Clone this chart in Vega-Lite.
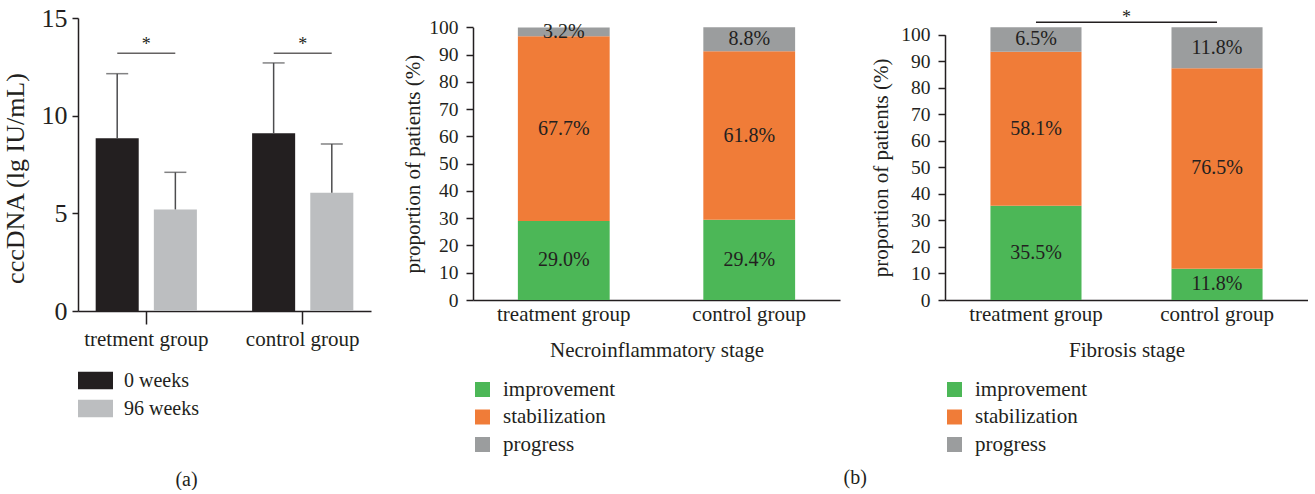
{
  "$schema": "https://vega.github.io/schema/vega-lite/v6.json",
  "padding": {"left": 2, "top": 5, "right": 0, "bottom": 0},
  "background": "white",
  "config": {
    "font": "Liberation Serif",
    "view": {"stroke": null},
    "style": {"guide-label": {"font": "Liberation Serif"}, "guide-title": {"font": "Liberation Serif"}, "group-title": {"font": "Liberation Serif"}},
    "axis": {"domainColor": "#231f20", "tickColor": "#231f20", "labelColor": "#231f20", "titleColor": "#231f20", "titleFontWeight": "normal", "grid": false, "domainWidth": 1.5, "tickWidth": 1.5, "labelFont": "Liberation Serif", "titleFont": "Liberation Serif", "labelOverlap": false},
    "legend": {"labelFont": "Liberation Serif", "labelColor": "#231f20", "padding": 0},
    "title": {"font": "Liberation Serif", "fontWeight": "normal", "color": "#231f20"},
    "text": {"font": "Liberation Serif"}
  },
  "datasets": {
    "cccdna": [
      {"group": "tretment group", "week": "0 weeks", "mean": 8.85, "upper": 12.15},
      {"group": "tretment group", "week": "96 weeks", "mean": 5.2, "upper": 7.1},
      {"group": "control group", "week": "0 weeks", "mean": 9.1, "upper": 12.7},
      {"group": "control group", "week": "96 weeks", "mean": 6.05, "upper": 8.55}
    ],
    "sigA": [
      {"group": "tretment group", "level": 13.2, "sig": "*"},
      {"group": "control group", "level": 13.2, "sig": "*"}
    ],
    "necro": [
      {"group": "treatment group", "outcome": "improvement", "rank": 1, "value": 29.0, "label": "29.0%"},
      {"group": "treatment group", "outcome": "stabilization", "rank": 2, "value": 67.7, "label": "67.7%"},
      {"group": "treatment group", "outcome": "progress", "rank": 3, "value": 3.2, "label": "3.2%"},
      {"group": "control group", "outcome": "improvement", "rank": 1, "value": 29.4, "label": "29.4%"},
      {"group": "control group", "outcome": "stabilization", "rank": 2, "value": 61.8, "label": "61.8%"},
      {"group": "control group", "outcome": "progress", "rank": 3, "value": 8.8, "label": "8.8%"}
    ],
    "fibrosis": [
      {"group": "treatment group", "outcome": "improvement", "rank": 1, "value": 35.5, "label": "35.5%"},
      {"group": "treatment group", "outcome": "stabilization", "rank": 2, "value": 58.1, "label": "58.1%"},
      {"group": "treatment group", "outcome": "progress", "rank": 3, "value": 9.2, "label": "6.5%"},
      {"group": "control group", "outcome": "improvement", "rank": 1, "value": 11.8, "label": "11.8%"},
      {"group": "control group", "outcome": "stabilization", "rank": 2, "value": 75.6, "label": "76.5%"},
      {"group": "control group", "outcome": "progress", "rank": 3, "value": 15.4, "label": "11.8%"}
    ],
    "sigB": [
      {"from": "treatment group", "to": "control group", "level": 104.7}
    ]
  },
  "spacing": 102,
  "bounds": "flush",
  "resolve": {"scale": {"color": "independent"}, "legend": {"color": "independent"}},
  "hconcat": [
    {
      "width": 293,
      "height": 293,
      "title": {"text": "(a)", "orient": "bottom", "anchor": "middle", "frame": "bounds", "offset": 51, "fontSize": 20},
      "layer": [
        {
          "data": {"name": "cccdna"},
          "mark": {"type": "bar"},
          "encoding": {
            "x": {"field": "group", "type": "nominal", "scale": {"domain": ["tretment group", "control group"], "paddingInner": 0.353, "paddingOuter": 0.113},
              "axis": {"title": null, "labelAngle": 0, "labelFont": "Liberation Serif", "labelFontSize": 21, "tickSize": 13, "labelPadding": 4}},
            "xOffset": {"field": "week", "type": "nominal", "scale": {"domain": ["0 weeks", "96 weeks"], "paddingInner": 0.26, "paddingOuter": 0}},
            "y": {"field": "mean", "type": "quantitative", "scale": {"domain": [0, 15], "nice": false, "zero": true},
              "axis": {"title": "cccDNA (lg IU/mL)", "values": [0, 5, 10, 15], "tickCount": 20, "labelOverlap": false, "labelFont": "Liberation Serif", "titleFont": "Liberation Serif", "titleFontSize": 26, "labelFontSize": 26, "tickSize": 6, "labelPadding": 5, "titlePadding": 13, "titleY": 160}},
            "color": {"field": "week", "type": "nominal", "scale": {"domain": ["0 weeks", "96 weeks"], "range": ["#231f20", "#bcbec0"]},
              "legend": {"title": null, "orient": "none", "legendX": 0, "legendY": 345, "symbolType": "M-1,-0.5H1V0.5H-1Z", "symbolSize": 1225, "labelOffset": 11, "labelFontSize": 20, "rowPadding": -10.5, "symbolStrokeWidth": 0}}
          }
        },
        {
          "data": {"name": "cccdna"},
          "mark": {"type": "rule", "color": "#4d4d4f", "strokeWidth": 1.5},
          "encoding": {
            "x": {"field": "group", "type": "nominal"},
            "xOffset": {"field": "week", "type": "nominal"},
            "y": {"field": "mean", "type": "quantitative", "scale": {"domain": [0, 15], "nice": false}},
            "y2": {"field": "upper"}
          }
        },
        {
          "data": {"name": "cccdna"},
          "mark": {"type": "tick", "orient": "horizontal", "size": 22, "thickness": 1.5, "color": "#4d4d4f"},
          "encoding": {
            "x": {"field": "group", "type": "nominal"},
            "xOffset": {"field": "week", "type": "nominal"},
            "y": {"field": "upper", "type": "quantitative", "scale": {"domain": [0, 15], "nice": false}}
          }
        },
        {
          "data": {"name": "sigA"},
          "mark": {"type": "tick", "orient": "horizontal", "size": 58, "thickness": 1.5, "color": "#231f20"},
          "encoding": {
            "x": {"field": "group", "type": "nominal"},
            "y": {"field": "level", "type": "quantitative", "scale": {"domain": [0, 15], "nice": false}}
          }
        },
        {
          "data": {"name": "sigA"},
          "mark": {"type": "text", "baseline": "alphabetic", "fontSize": 18, "color": "#231f20", "dy": -3},
          "encoding": {
            "x": {"field": "group", "type": "nominal"},
            "y": {"field": "level", "type": "quantitative", "scale": {"domain": [0, 15], "nice": false}},
            "text": {"field": "sig"}
          }
        }
      ]
    },
    {
      "title": {"text": "(b)", "orient": "bottom", "anchor": "middle", "frame": "bounds", "offset": 13, "fontSize": 20},
      "spacing": 105,
      "bounds": "flush",
      "resolve": {"scale": {"color": "independent"}, "legend": {"color": "independent"}},
      "hconcat": [
        {
          "width": 367,
          "height": 282,
          "layer": [
            {
              "data": {"name": "necro"},
              "transform": [
                {"stack": "value", "groupby": ["group"], "sort": [{"field": "rank", "order": "ascending"}], "as": ["v0", "v1"]}
              ],
              "mark": {"type": "bar"},
              "encoding": {
                "x": {"field": "group", "type": "nominal", "scale": {"domain": ["treatment group", "control group"], "paddingInner": 0.505, "paddingOuter": 0.242},
                  "axis": {"title": "Necroinflammatory stage", "labelAngle": 0, "labelFont": "Liberation Serif", "titleFont": "Liberation Serif", "labelFontSize": 21, "titleFontSize": 21, "ticks": false, "tickSize": 0, "labelPadding": 3, "titlePadding": 15}},
                "y": {"field": "v0", "type": "quantitative", "scale": {"domain": [0, 100], "nice": false, "range": [282, 9.3]},
                  "axis": {"title": "proportion of patients (%)", "values": [0, 10, 20, 30, 40, 50, 60, 70, 80, 90, 100], "tickCount": 20, "labelOverlap": false, "labelFont": "Liberation Serif", "titleFont": "Liberation Serif", "labelFontSize": 19.5, "titleFontSize": 21, "tickSize": 7, "labelPadding": 8, "titlePadding": 5.5}},
                "y2": {"field": "v1"},
                "color": {"field": "outcome", "type": "nominal", "scale": {"domain": ["improvement", "stabilization", "progress"], "range": ["#4cb757", "#f07c38", "#9b9d9e"]},
                  "legend": {"title": null, "orient": "none", "legendX": -1, "legendY": 361, "symbolType": "square", "symbolSize": 225, "labelOffset": 10, "labelFontSize": 21, "rowPadding": 5.5, "symbolStrokeWidth": 0}}
              }
            },
            {
              "data": {"name": "necro"},
              "transform": [
                {"stack": "value", "groupby": ["group"], "sort": [{"field": "rank", "order": "ascending"}], "as": ["v0", "v1"]},
                {"calculate": "(datum.v0 + datum.v1) / 2", "as": "mid"}
              ],
              "mark": {"type": "text", "fontSize": 20, "color": "#231f20", "baseline": "middle"},
              "encoding": {
                "x": {"field": "group", "type": "nominal"},
                "y": {"field": "mid", "type": "quantitative", "scale": {"domain": [0, 100], "nice": false}},
                "text": {"field": "label"}
              }
            }
          ]
        },
        {
          "width": 363,
          "height": 282,
          "title": {"text": "*", "orient": "top", "anchor": "middle", "frame": "group", "offset": -9, "fontSize": 18},
          "layer": [
            {
              "data": {"name": "fibrosis"},
              "transform": [
                {"stack": "value", "groupby": ["group"], "sort": [{"field": "rank", "order": "ascending"}], "as": ["v0", "v1"]}
              ],
              "mark": {"type": "bar"},
              "encoding": {
                "x": {"field": "group", "type": "nominal", "scale": {"domain": ["treatment group", "control group"], "paddingInner": 0.497, "paddingOuter": 0.251},
                  "axis": {"title": "Fibrosis stage", "labelAngle": 0, "labelFont": "Liberation Serif", "titleFont": "Liberation Serif", "labelFontSize": 21, "titleFontSize": 21, "ticks": false, "tickSize": 0, "labelPadding": 3, "titlePadding": 15}},
                "y": {"field": "v0", "type": "quantitative", "scale": {"domain": [0, 100], "nice": false, "range": [282, 16.7]},
                  "axis": {"title": "proportion of patients (%)", "values": [0, 10, 20, 30, 40, 50, 60, 70, 80, 90, 100], "tickCount": 20, "labelOverlap": false, "labelFont": "Liberation Serif", "titleFont": "Liberation Serif", "labelFontSize": 19.5, "titleFontSize": 21, "tickSize": 7, "labelPadding": 8, "titlePadding": 9}},
                "y2": {"field": "v1"},
                "color": {"field": "outcome", "type": "nominal", "scale": {"domain": ["improvement", "stabilization", "progress"], "range": ["#4cb757", "#f07c38", "#9b9d9e"]},
                  "legend": {"title": null, "orient": "none", "legendX": -1, "legendY": 361, "symbolType": "square", "symbolSize": 225, "labelOffset": 10, "labelFontSize": 21, "rowPadding": 5.5, "symbolStrokeWidth": 0}}
              }
            },
            {
              "data": {"name": "fibrosis"},
              "transform": [
                {"stack": "value", "groupby": ["group"], "sort": [{"field": "rank", "order": "ascending"}], "as": ["v0", "v1"]},
                {"calculate": "(datum.v0 + datum.v1) / 2", "as": "mid"}
              ],
              "mark": {"type": "text", "fontSize": 20, "color": "#231f20", "baseline": "middle"},
              "encoding": {
                "x": {"field": "group", "type": "nominal"},
                "y": {"field": "mid", "type": "quantitative", "scale": {"domain": [0, 100], "nice": false}},
                "text": {"field": "label"}
              }
            },
            {
              "data": {"name": "sigB"},
              "mark": {"type": "rule", "color": "#231f20", "strokeWidth": 1.5},
              "encoding": {
                "x": {"field": "from", "type": "nominal"},
                "x2": {"field": "to"},
                "y": {"field": "level", "type": "quantitative", "scale": {"domain": [0, 100], "nice": false}}
              }
            }
          ]
        }
      ]
    }
  ]
}
